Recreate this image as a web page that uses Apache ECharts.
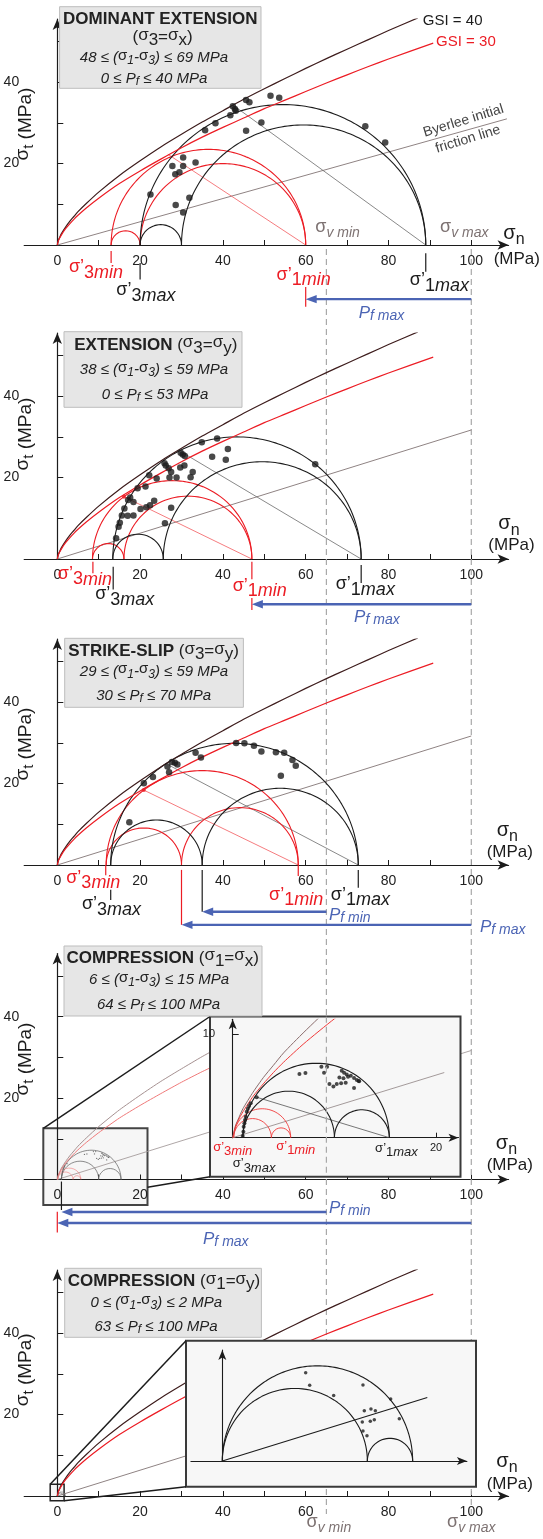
<!DOCTYPE html>
<html><head><meta charset="utf-8">
<script src="https://cdn.jsdelivr.net/npm/echarts@6/dist/echarts.min.js"></script>
<style>html,body{margin:0;padding:0;background:#fff}#c{width:543px;height:1539px}</style>
</head><body><div id="c"></div>
<script>
// ================= DATA =================
const xTicks = [10,20,30,40,50,60,70,80,90,100];
const xLabels = [0,20,40,60,80,100];
const yTicks = [10,20,30,40,50];
const yLabels = [20,40];

// failure envelopes [sigma_n, sigma_t]
const gsi40 = [[0,0],[0.25,1.1],[0.5,1.7],[1,2.8],[2,4.4],[3,5.8],[4,7.0],[5,8.2],[7,10.2],[10,13.0],[15,17.1],[20,20.7],[25,24.1],[30,27.2],[35,30.2],[40,33.0],[45,35.8],[50,38.4],[55,40.9],[60,43.4],[65,45.8],[70,48.1],[75,50.4],[80,52.7],[87.1,55.8]];
const gsi30 = [[0,0],[0.25,1.0],[0.5,1.6],[1,2.5],[2,4.0],[3,5.2],[4,6.3],[5,7.3],[7,9.1],[10,11.5],[15,15.1],[20,18.2],[25,21.1],[30,23.9],[35,26.5],[40,28.9],[45,31.2],[50,33.5],[55,35.6],[60,37.7],[65,39.8],[70,41.8],[75,43.8],[80,45.7],[90.8,49.6]];
const byerleeP1 = [[0,0],[108.6,31.0]];
const byerlee = [[0,0],[100,31.7]];

// Mohr circles as [sigma3, sigma1]
const p1Black = [[20,89],[30,89],[20,30]];
const p1Red = [[13,60],[20,60],[13,20]];
const p1BlackRadial = [[42.4,34.4],[89,0]];
const p1RedRadial = [[26.7,22.3],[60,0]];
const p1Dots = [[22.5,12.4],[27.8,19.4],[30.4,21.5],[30.4,19.4],[28.5,17.4],[29.5,17.9],[33.4,20.3],[28.6,9.8],[31.9,11.6],[30.4,8.0],[35.7,28.2],[38.2,29.9],[41.8,31.9],[42.4,34.1],[42.9,33.4],[43.1,33.0],[45.6,28.1],[45.6,35.6],[46.4,35.1],[49.3,30.1],[51.5,36.7],[53.6,36.2],[74.4,29.2],[79.2,25.2]];

const p2Black = [[13.4,73.4],[25.6,73.4],[13.4,25.6]];
const p2Red = [[8.5,47],[16.1,47],[8.5,16.1]];
const p2BlackRadial = [[30.3,26.1],[73.4,0]];
const p2RedRadial = [[16.1,15.3],[47,0]];
const p2Dots = [[34.9,28.7],[38.6,29.6],[41.2,27.0],[37.4,25.1],[40.7,24.4],[29.8,26.1],[30.3,25.7],[30.8,25.3],[25.9,23.5],[26.2,23.0],[26.9,22.3],[27.5,21.4],[29.7,22.5],[30.7,23.0],[32.7,21.4],[32.2,20.1],[28.8,20.0],[27.1,20.0],[24.0,19.8],[22.2,20.6],[21.3,17.8],[19.4,17.4],[18.4,14.0],[17.6,15.1],[17.1,14.5],[18.4,10.7],[17.0,10.6],[16.2,12.4],[15.6,10.7],[15.1,8.9],[14.8,7.9],[14.2,5.1],[20.1,12.3],[21.5,12.7],[22.4,13.2],[23.4,14.3],[27.5,12.6],[26.0,8.8],[62.3,23.3]];

const p3Black = [[12.9,72.7],[12.9,35],[35,72.7]];
const p3Red = [[11.8,58.2],[11.8,30],[30,58.2]];
const p3BlackRadial = [[27.0,24.5],[72.7,0]];
const p3RedRadial = [[20.9,18.4],[58.2,0]];
const p3Dots = [[17.4,10.5],[20.9,20.1],[23.1,21.6],[26.6,24.2],[27.7,25.3],[28.4,25.1],[29.0,24.7],[27.0,22.8],[33.4,27.6],[34.7,26.4],[43.2,30.0],[45.2,29.9],[47.5,29.3],[49.3,27.9],[52.8,27.7],[54.8,27.6],[56.8,25.8],[57.6,24.4],[54.0,21.9]];

const p4Black = [[1.0,15.4],[1.0,10.0],[10.0,15.4]];
const p4Red = [[0.1,5.7],[0.1,3.8],[3.8,5.7]];
const p4BlackRadial = [[2.4,3.9],[15.4,0]];
const p4InsetByerlee = [[0,0],[20.8,6.3]];
const p4Dots = [[0.98,0.16],[1.05,0.58],[1.08,1.06],[1.15,1.39],[1.21,1.71],[1.28,2.03],[1.38,2.52],[1.48,2.81],[1.61,3.06],[1.77,3.32],[2.36,3.90],[6.56,6.16],[7.15,6.26],[8.72,6.87],[9.28,6.87],[8.98,6.29],[10.72,6.48],[10.95,6.29],[11.21,6.10],[11.61,6.0],[11.93,5.77],[12.2,5.58],[12.39,5.48],[10.49,5.81],[10.89,5.74],[11.34,5.9],[9.51,5.19],[9.9,4.94],[10.23,5.19],[10.66,5.26],[11.11,5.32],[11.93,4.81],[12.43,5.45]];

const p5Black = [[0,2],[0,1.524],[1.524,2]];
const p5InsetByerlee = [[0,0],[2.154,0.666]];
const p5Dots = [[0.876,0.928],[0.918,0.795],[1.170,0.687],[1.478,0.799],[1.769,0.651],[1.860,0.445],[1.492,0.529],[1.562,0.546],[1.608,0.529],[1.471,0.410],[1.555,0.417],[1.597,0.434],[1.478,0.315],[1.520,0.266]];

const sigmaV = [65, 100];   // sigma_v min / max

const titles = [
  {box:[59.6,6.7,201.4,81.6], lines:[[160.3,19,'{b|DOMINANT EXTENSION}',17],[162.6,37.5,'{n|(}{s|σ}{d|3}{n|=}{s|σ}{d|x}{n|)}',17],[154,58,'{i|48 ≤ (}{s|σ}{dsi|1}{i|-}{s|σ}{dsi|3}{i|) ≤ 69 MPa}',15],[154,79,'{i|0 ≤ P}{dsi|f}{i| ≤ 40 MPa}',15]]},
  {box:[64,331.7,178,75.6], lines:[[155.8,345,'{b|EXTENSION }{n|(}{s|σ}{d|3}{n|=}{s|σ}{d|y}{n|)}',17],[154,370,'{i|38 ≤ (}{s|σ}{dsi|1}{i|-}{s|σ}{dsi|3}{i|) ≤ 59 MPa}',15],[155,395,'{i|0 ≤ P}{dsi|f}{i| ≤ 53 MPa}',15]]},
  {box:[64.7,638.3,178.7,69], lines:[[153.6,651.7,'{b|STRIKE-SLIP }{n|(}{s|σ}{d|3}{n|=}{s|σ}{d|y}{n|)}',17],[154,671.7,'{i|29 ≤ (}{s|σ}{dsi|1}{i|-}{s|σ}{dsi|3}{i|) ≤ 59 MPa}',15],[153.7,696,'{i|30 ≤ P}{dsi|f}{i| ≤ 70 MPa}',15]]},
  {box:[64,946,198,70], lines:[[162.7,958.3,'{b|COMPRESSION }{n|(}{s|σ}{d|1}{n|=}{s|σ}{d|x}{n|)}',17],[159,980,'{i|6 ≤ (}{s|σ}{dsi|1}{i|-}{s|σ}{dsi|3}{i|) ≤ 15 MPa}',15],[158.6,1005,'{i|64 ≤ P}{dsi|f}{i| ≤ 100 MPa}',15]]},
  {box:[64.7,1268.3,196.7,69], lines:[[164,1281.7,'{b|COMPRESSION }{n|(}{s|σ}{d|1}{n|=}{s|σ}{d|y}{n|)}',17],[156.3,1302.7,'{i|0 ≤ (}{s|σ}{dsi|1}{i|-}{s|σ}{dsi|3}{i|) ≤ 2 MPa}',15],[156,1327.3,'{i|63 ≤ P}{dsi|f}{i| ≤ 100 MPa}',15]]}
];

// ================= STYLE / LAYOUT =================
const FF = "'Liberation Sans', Arial, Helvetica, sans-serif";
const BROWN='#3d1c1c', RED='#ec1c24', CIRC='#1c1c1c', BYER='#8f8383', RAD='#6b6b6b', RADRED='#f25a5e', BLUE='#4b64b4', DASH='#a9a9a9', GTXT='#7d7272';
const X0=57.3, KX=4.14, KY=4.07, XMIN=-8, XMAX=109, YMAX=55.5;
const AXIS_Y=[245,559,865,1179.5,1496];

function RICH(fs,color){
  const up=Math.round(fs*0.3), dn=Math.round(fs*0.35);
  const base={fontFamily:FF,fill:color,color:color,fontSize:fs};
  const sm=Math.round(fs*0.8);
  return {
    n:Object.assign({},base),
    i:Object.assign({},base,{fontStyle:'italic'}),
    b:Object.assign({},base,{fontWeight:'bold'}),
    s:Object.assign({},base,{padding:[0,0,up,0]}),
    d:Object.assign({},base,{padding:[dn,0,0,0]}),
    di:Object.assign({},base,{fontStyle:'italic',padding:[dn,0,0,0]}),
    ds:Object.assign({},base,{fontSize:sm,padding:[dn,0,0,0]}),
    dsi:Object.assign({},base,{fontSize:sm,fontStyle:'italic',padding:[dn,0,0,0]})
  };
}
function semicircle(c){const a=c[0],b=c[1],m=(a+b)/2,r=(b-a)/2,pts=[];for(let k=0;k<=120;k++){const t=Math.PI*k/120;pts.push([m+r*Math.cos(t),r*Math.sin(t)]);}return pts;}

const series=[];
function lineS(g,data,color,width,z,extra){series.push(Object.assign({type:'line',xAxisIndex:g,yAxisIndex:g,data:data,showSymbol:false,symbol:'none',silent:true,animation:false,lineStyle:{color:color,width:width},z:z},extra||{}));}
function dotS(g,data,size,color,z){series.push({type:'scatter',xAxisIndex:g,yAxisIndex:g,data:data,symbolSize:size,itemStyle:{color:color},silent:true,animation:false,z:z});}
function T(x,y,s,o){return Object.assign({t:'text',x:x,y:y,s:s,fs:17,c:'#1c1c1c',al:'center',rot:0},o||{});}
function L(pts,o){return Object.assign({t:'line',pts:pts,c:'#1c1c1c',w:1.2},o||{});}
function A(from,to,o){return Object.assign({t:'arrow',from:from,to:to,c:BLUE,w:2.4},o||{});}
function annS(g,list,z){
  series.push({type:'custom',xAxisIndex:g,yAxisIndex:g,data:list.map((a,i)=>[i,0]),silent:true,animation:false,clip:false,z:z,
    renderItem:function(params,api){
      const a=list[params.dataIndex];
      if(a.t==='line'){return {type:'polyline',shape:{points:a.pts.map(p=>api.coord(p))},style:{stroke:a.c,lineWidth:a.w,lineDash:a.dash||null,fill:null}};}
      if(a.t==='arrow'){
        const p1=api.coord(a.from),p2=api.coord(a.to);const dx=p2[0]-p1[0],dy=p2[1]-p1[1],len=Math.hypot(dx,dy);const ux=dx/len,uy=dy/len,H=11,W=4.2;
        const bx=p2[0]-ux*H,by=p2[1]-uy*H;
        return {type:'group',children:[
          {type:'line',shape:{x1:p1[0],y1:p1[1],x2:bx+ux*1,y2:by+uy*1},style:{stroke:a.c,lineWidth:a.w}},
          {type:'polygon',shape:{points:[[p2[0],p2[1]],[bx-uy*W,by+ux*W],[bx+uy*W,by-ux*W]]},style:{fill:a.c}}]};
      }
      const p=api.coord([a.x,a.y]);
      return {type:'text',x:p[0],y:p[1],rotation:a.rot*Math.PI/180,style:{text:a.s,rich:RICH(a.fs,a.c),fill:a.c,fontSize:a.fs,fontFamily:FF,align:a.al,verticalAlign:'middle'}};
    }});
}

// ---- grids & axes ----
const grids=[],xAxes=[],yAxes=[];
AXIS_Y.forEach((ay,g)=>{
  grids.push({left:X0+XMIN*KX,top:ay-YMAX*KY,width:(XMAX-XMIN)*KX,height:YMAX*KY,outerBoundsMode:'none',containLabel:false});
  xAxes.push({gridIndex:g,type:'value',min:XMIN,max:XMAX,z:0,
    axisLine:{show:true,onZero:true,symbol:['none','arrow'],symbolSize:[7,11],lineStyle:{color:'#1c1c1c',width:1.2}},
    axisTick:{show:true,inside:true,length:5,customValues:xTicks,lineStyle:{color:'#1c1c1c',width:1}},
    axisLabel:{show:true,customValues:xLabels,margin:9,fontSize:14,color:'#222',fontFamily:FF},
    splitLine:{show:false}});
  yAxes.push({gridIndex:g,type:'value',min:0,max:YMAX,z:0,
    axisLine:{show:true,onZero:true,symbol:['none','arrow'],symbolSize:[7,11],lineStyle:{color:'#1c1c1c',width:1.2}},
    axisTick:{show:true,inside:true,length:6,customValues:yTicks,lineStyle:{color:'#1c1c1c',width:1}},
    axisLabel:{show:true,customValues:yLabels,margin:5,fontSize:14,color:'#222',fontFamily:FF},
    splitLine:{show:false}});
});
// inset grid (panel 4)
grids.push({left:220.0,top:1019.3,width:238.5,height:118.4,outerBoundsMode:'none',containLabel:false});
xAxes.push({gridIndex:5,type:'value',min:-1.25,max:22.2,z:31,
  axisLine:{show:true,onZero:true,symbol:['none','arrow'],symbolSize:[6,10],lineStyle:{color:'#1c1c1c',width:1.1}},
  axisTick:{show:true,inside:true,length:5,customValues:[20],lineStyle:{color:'#1c1c1c'}},
  axisLabel:{show:true,customValues:[20],margin:5,fontSize:11,color:'#222',fontFamily:FF},splitLine:{show:false}});
yAxes.push({gridIndex:5,type:'value',min:0,max:11.45,z:31,
  axisLine:{show:true,onZero:true,symbol:['none','arrow'],symbolSize:[6,10],lineStyle:{color:'#1c1c1c',width:1.1}},
  axisTick:{show:true,inside:true,length:6,customValues:[10],lineStyle:{color:'#1c1c1c'}},
  axisLabel:{show:true,customValues:[10],margin:5,fontSize:11,color:'#222',fontFamily:FF},splitLine:{show:false}});
// inset grid (panel 5)
grids.push({left:190.9,top:1350,width:276.0,height:111,outerBoundsMode:'none',containLabel:false});
xAxes.push({gridIndex:6,type:'value',min:-0.33,max:2.57,z:31,
  axisLine:{show:true,onZero:true,symbol:['none','arrow'],symbolSize:[6,10],lineStyle:{color:'#1c1c1c',width:1.1}},
  axisTick:{show:false},axisLabel:{show:false},splitLine:{show:false}});
yAxes.push({gridIndex:6,type:'value',min:0,max:1.166,z:31,
  axisLine:{show:true,onZero:true,symbol:['none','arrow'],symbolSize:[6,10],lineStyle:{color:'#1c1c1c',width:1.1}},
  axisTick:{show:false},axisLabel:{show:false},splitLine:{show:false}});

// ---- panels 1-3 ----
const P=[
  {black:p1Black,red:p1Red,br:p1BlackRadial,rr:p1RedRadial,dots:p1Dots,by:byerleeP1,redDot:false},
  {black:p2Black,red:p2Red,br:p2BlackRadial,rr:p2RedRadial,dots:p2Dots,by:byerlee,redDot:true},
  {black:p3Black,red:p3Red,br:p3BlackRadial,rr:p3RedRadial,dots:p3Dots,by:byerlee,redDot:true}
];
P.forEach((p,g)=>{
  lineS(g,p.by,BYER,1,2);
  lineS(g,p.br,RAD,0.8,2);
  lineS(g,p.rr,RADRED,0.8,2);
  p.red.forEach(c=>lineS(g,semicircle(c),RED,1.1,3));
  p.black.forEach(c=>lineS(g,semicircle(c),CIRC,1.1,3));
  lineS(g,gsi40,BROWN,1.2,4,{smooth:0.2});
  lineS(g,gsi30,RED,1.2,4,{smooth:0.2});
  dotS(g,p.dots,6.5,'#1c1c1c',5);
  if(p.redDot) dotS(g,[p.rr[0]],4,RED,5);
});
// ---- panel 4 main (grid 3) ----
lineS(3,byerlee,'#a59c9c',0.9,2);
lineS(3,gsi40.filter(d=>d[0]<=40),'#a69191',1,4,{smooth:0.2});
lineS(3,gsi30.filter(d=>d[0]<=40),'#f07a7a',1,4,{smooth:0.2});
p4Black.forEach(c=>lineS(3,semicircle(c),'#6e6e6e',0.8,3));
p4Red.forEach(c=>lineS(3,semicircle(c),'#f07a7a',0.6,3));
dotS(3,p4Dots,1.3,'#555',5);
// ---- panel 4 inset (grid 5) ----
lineS(5,p4InsetByerlee,'#9a8e8e',0.9,32);
lineS(5,p4BlackRadial,'#555',0.8,32);
p4Red.forEach(c=>lineS(5,semicircle(c),'#f03a3a',0.9,33));
p4Black.forEach(c=>lineS(5,semicircle(c),CIRC,1.1,33));
lineS(5,gsi40,'#8a6c6c',1,34,{smooth:0.2});
lineS(5,gsi30,'#f03a3a',1,34,{smooth:0.2});
dotS(5,p4Dots,4,'#1c1c1c',35);
// ---- panel 5 main (grid 4) ----
lineS(4,byerlee,BYER,1,2);
lineS(4,gsi40,BROWN,1.2,4,{smooth:0.2});
lineS(4,gsi30,RED,1.2,4,{smooth:0.2});
p5Black.forEach(c=>lineS(4,semicircle(c),'#6e6e6e',0.6,3));
// ---- panel 5 inset (grid 6) ----
lineS(6,p5InsetByerlee,CIRC,1.1,32);
p5Black.forEach(c=>lineS(6,semicircle(c),CIRC,1.1,33));
dotS(6,p5Dots,3.5,'#1c1c1c',35);

// ---- annotations ----
const SN=(x,y)=>T(x,y,'{s|σ}{ds|n}',{fs:20});
const MPA=(x,y)=>T(x,y,'{n|(MPa)}',{fs:17});
const ST=(y)=>T(-7.7,y,'{s|σ}{ds|t}{n| (MPa)}',{fs:19,rot:90});
const LAB=(x,y,d,sub,c)=>T(x,y,'{s|σ’}{d|'+d+'}{di|'+sub+'}',{fs:18,c:c});
const PF=(x,y,sub,al)=>T(x,y,'{i|P}{dsi|f '+sub+'}',{fs:17,c:BLUE,al:al||'center'});
const SV=(x,y,sub)=>T(x,y,'{s|σ}{dsi|v '+sub+'}',{fs:18,c:GTXT});

// dashed sigma_v lines (grid 0 scale, extend over all panels)
annS(0,sigmaV.map(v=>L([[v,-1.0],[v,-311.8]],{c:DASH,w:1.2,dash:[6,4]})),1);
// panel 4 overlay of dashed line over inset
annS(3,[L([[sigmaV[0],40.0],[sigmaV[0],0.7]],{c:DASH,w:1.2,dash:[6,4]})],36);

annS(0,[
  T(88.3,55.0,'{n|GSI = 40}',{fs:15,al:'left'}),
  T(91.5,49.9,'{n|GSI = 30}',{fs:15,c:RED,al:'left'}),
  T(98.1,30.5,'{n|Byerlee initial}',{fs:14,c:'#444',rot:17}),
  T(99.2,26.0,'{n|friction line}',{fs:14,c:'#444',rot:17}),
  SV(67.7,3.7,'min'),SV(98.3,3.7,'max'),
  SN(110.3,2.1),MPA(111.0,-3.5),ST(29.7),
  L([[13,-1.5],[13,-4.4]],{c:RED}),LAB(9.35,-6.1,'3','min',RED),
  L([[20,-4.4],[20,-8.5]]),LAB(21.4,-11.8,'3','max','#1c1c1c'),
  L([[60,-10.3],[60,-15.2]],{c:RED}),LAB(59.5,-7.9,'1','min',RED),
  L([[89,-2],[89,-6.6]]),LAB(92.3,-9.3,'1','max','#1c1c1c'),
  A([100,-13.3],[60,-13.3]),PF(78.3,-16.7,'max')
],10);
annS(1,[
  SN(109.1,7.9),MPA(109.7,3.3),ST(30.7),
  L([[8.6,-0.7],[8.6,-3.5]],{c:RED}),LAB(6.66,-4.3,'3','min',RED),
  L([[13.5,-1.9],[13.5,-7.5]]),LAB(16.3,-9.3,'3','max','#1c1c1c'),
  L([[47,-0.7],[47,-5.0]],{c:RED}),L([[47,-9.6],[47,-12.5]],{c:RED}),LAB(48.9,-7.2,'1','min',RED),
  L([[73.4,-1.5],[73.4,-5.9]]),LAB(74.4,-6.8,'1','max','#1c1c1c'),
  A([100,-11.1],[47,-11.1]),PF(77.2,-14.2,'max')
],10);
annS(2,[
  SN(108.7,7.8),MPA(109.3,3.1),ST(29.7),
  L([[11.7,0],[11.7,-2.5]],{c:RED}),LAB(8.7,-3.7,'3','min',RED),
  L([[12.9,-6.1],[12.9,-8.6]]),LAB(13.1,-10.3,'3','max','#1c1c1c'),
  L([[30,-1.2],[30,-14.7]],{c:RED}),L([[35,-1.2],[35,-11.5]]),
  L([[58.2,0],[58.2,-2.7]],{c:RED}),LAB(57.7,-7.9,'1','min',RED),
  L([[72.7,-1.2],[72.7,-5.6]]),LAB(73.2,-7.9,'1','max','#1c1c1c'),
  A([65,-11.5],[35,-11.5]),PF(65.6,-12.3,'min','left'),
  A([100,-14.7],[30,-14.7]),PF(102.1,-15.2,'max','left')
],10);
annS(3,[
  SN(108.5,8.1),MPA(109.3,3.4),ST(29.6),
  L([[0,-7.9],[0,-13.0]],{c:RED}),L([[1,-0.5],[1,-7.5]]),
  A([65,-8.0],[1,-8.0]),PF(65.6,-7.1,'min','left'),
  A([100,-10.7],[0,-10.7]),PF(40.7,-14.6,'max')
],10);
annS(4,[
  SN(108.6,7.8),MPA(109.3,2.9),ST(31.0),
  SV(65.6,-7.1,'min'),SV(100,-7.1,'max')
],10);
annS(5,[
  LAB(0,-1.1,'3','min',RED),
  LAB(2.1,-2.7,'3','max','#1c1c1c'),
  LAB(6.2,-1.0,'1','min',RED),
  LAB(16.1,-1.2,'1','max','#1c1c1c')
].map(a=>Object.assign(a,{fs:13})),36);

// ---- graphics: title boxes, inset boxes, callouts ----
const graphics=[];
titles.forEach(t=>{
  const b=t.box;
  graphics.push({type:'rect',shape:{x:b[0],y:b[1],width:b[2],height:b[3]},style:{fill:'#e6e6e6',stroke:'#bdbdbd',lineWidth:1},z:40,silent:true});
  t.lines.forEach(l=>graphics.push({type:'text',x:l[0],y:l[1],style:{text:l[2],rich:RICH(l[3],'#222'),fill:'#222',fontSize:l[3],fontFamily:FF,align:'center',verticalAlign:'middle'},z:41,silent:true}));
});
// panel 4
graphics.push({type:'rect',shape:{x:43.3,y:1128.3,width:104.2,height:76.7},style:{fill:'#f6f6f6',stroke:'#444',lineWidth:2},z:-1,silent:true});
graphics.push({type:'rect',shape:{x:210,y:1016.5,width:250.5,height:160.2},style:{fill:'#f7f7f7',stroke:'#3a3a3a',lineWidth:2},z:30,silent:true});
graphics.push({type:'line',shape:{x1:43.3,y1:1128.3,x2:210,y2:1016.5},style:{stroke:'#1c1c1c',lineWidth:1.5},z:30,silent:true});
graphics.push({type:'line',shape:{x1:147.5,y1:1187.3,x2:210,y2:1176.7},style:{stroke:'#1c1c1c',lineWidth:1.5},z:30,silent:true});
// panel 5
graphics.push({type:'rect',shape:{x:50.2,y:1484.3,width:13.9,height:16.4},style:{fill:'rgba(240,240,240,0.6)',stroke:'#222',lineWidth:1.5},z:-1,silent:true});
graphics.push({type:'rect',shape:{x:186,y:1340.7,width:290,height:146},style:{fill:'#f7f7f7',stroke:'#3a3a3a',lineWidth:2},z:30,silent:true});
graphics.push({type:'line',shape:{x1:50.2,y1:1484.3,x2:186,y2:1340.7},style:{stroke:'#1c1c1c',lineWidth:1.5},z:30,silent:true});
graphics.push({type:'line',shape:{x1:64.1,y1:1500.7,x2:186,y2:1486.7},style:{stroke:'#1c1c1c',lineWidth:1.5},z:30,silent:true});

const chart=echarts.init(document.getElementById('c'),null,{renderer:'canvas',width:543,height:1539});
chart.setOption({animation:false,backgroundColor:'#fff',grid:grids,xAxis:xAxes,yAxis:yAxes,series:series,graphic:{elements:graphics}});
</script></body></html>
